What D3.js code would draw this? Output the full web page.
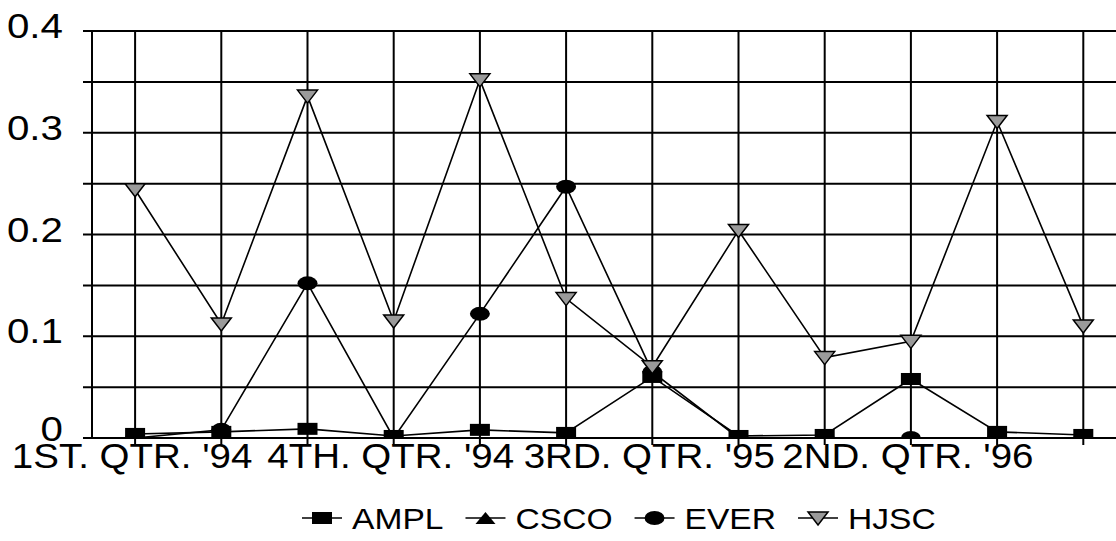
<!DOCTYPE html>
<html>
<head>
<meta charset="utf-8">
<script src="https://cdn.jsdelivr.net/npm/d3@7"></script>
<style>
  body { margin: 0; background: #fff; }
  svg { display: block; font-family: Arial, "Liberation Sans", sans-serif; }
</style>
</head>
<body>
<div id="chart"></div>
<script>
var quarters = ["1ST. QTR. '94", "2ND. QTR. '94", "3RD. QTR. '94", "4TH. QTR. '94",
                "1ST. QTR. '95", "2ND. QTR. '95", "3RD. QTR. '95", "4TH. QTR. '95",
                "1ST. QTR. '96", "2ND. QTR. '96", "3RD. QTR. '96", "4TH. QTR. '96"];
var shownLabels = ["1ST. QTR. '94", "4TH. QTR. '94", "3RD. QTR. '95", "2ND. QTR. '96"];
var yTicks = [0, 0.1, 0.2, 0.3, 0.4];
var gridSteps = [0, 0.05, 0.1, 0.15, 0.2, 0.25, 0.3, 0.35, 0.4];

var ampl = [0.004, 0.006, 0.009, 0.002, 0.008, 0.005, 0.060, 0.002, 0.003, 0.058, 0.006, 0.003];
var csco = [null, null, null, null, null, null, null, null, null, null, null, null];
var ever = [0, 0.008, 0.152, 0, 0.122, 0.247, 0.065, 0, 0, 0, 0, 0];
var hjsc = [0.244, 0.112, 0.336, 0.115, 0.352, 0.137, 0.070, 0.204, 0.079, 0.095, 0.311, 0.110];

var seriesNames = ["AMPL", "CSCO", "EVER", "HJSC"];

var W = 1116, H = 541;
var plotLeft = 92, plotTop = 31, plotBottom = 438;

var svg = d3.select("#chart").append("svg")
    .attr("width", W)
    .attr("height", H);

var x = d3.scaleBand()
    .domain(quarters)
    .range([plotLeft, plotLeft + 12 * 86.2])
    .paddingInner(0);
var cx = function(q) { return x(q) + x.bandwidth() / 2; };

var y = d3.scaleLinear()
    .domain([0, 0.4])
    .range([plotBottom, plotTop]);

// grid
svg.append("g").selectAll("line")
    .data(gridSteps)
    .enter().append("line")
    .attr("x1", plotLeft - 9).attr("x2", W)
    .attr("y1", function(d){ return y(d); })
    .attr("y2", function(d){ return y(d); })
    .attr("stroke", "#000").attr("stroke-width", 2);

svg.append("g").selectAll("line")
    .data(quarters)
    .enter().append("line")
    .attr("x1", cx).attr("x2", cx)
    .attr("y1", plotTop).attr("y2", plotBottom + 7)
    .attr("stroke", "#000").attr("stroke-width", 2);

svg.append("line")
    .attr("x1", plotLeft).attr("x2", plotLeft)
    .attr("y1", plotTop).attr("y2", plotBottom)
    .attr("stroke", "#000").attr("stroke-width", 2);

// y labels
svg.append("g").selectAll("text")
    .data(yTicks)
    .enter().append("text")
    .attr("transform", function(d){ return "translate(63," + (y(d) + (d === 0 ? 3 : 7)) + ") scale(1.12,1)"; })
    .attr("text-anchor", "end")
    .attr("font-size", 36)
    .text(function(d){ return d === 0 ? "0" : d3.format(".1f")(d); });

// x labels (the scanned chart is stretched sideways a little)
svg.append("g").selectAll("text")
    .data(shownLabels)
    .enter().append("text")
    .attr("transform", function(d){ return "translate(" + (cx(d) - 3) + ",468) scale(1.1,1)"; })
    .attr("text-anchor", "middle")
    .attr("font-size", 35)
    .text(function(d){ return d; });

// marks
svg.append("clipPath").attr("id", "plot")
    .append("rect").attr("x", 0).attr("y", 0).attr("width", W).attr("height", plotBottom);

var plot = svg.append("g").attr("clip-path", "url(#plot)");

function marker(g, kind) {
  if (kind === "square") {
    g.append("rect").attr("x", -10).attr("y", -6).attr("width", 20).attr("height", 12).attr("fill", "#000");
  } else if (kind === "tri") {
    g.append("path").attr("d", "M-10,6 L10,6 L0,-6 Z").attr("fill", "#000");
  } else if (kind === "circle") {
    g.append("ellipse").attr("rx", 10).attr("ry", 7).attr("fill", "#000");
  } else {
    g.append("path").attr("d", "M-10,-6 L10,-6 L0,7 Z")
      .attr("fill", "#9a9a9a").attr("stroke", "#000").attr("stroke-width", 1.5);
  }
}

var series = [
  { name: seriesNames[0], values: ampl, kind: "square" },
  { name: seriesNames[1], values: csco, kind: "tri" },
  { name: seriesNames[2], values: ever, kind: "circle" },
  { name: seriesNames[3], values: hjsc, kind: "dtri" }
];

var line = d3.line()
    .defined(function(d){ return d.v !== null; })
    .x(function(d){ return cx(d.q); })
    .y(function(d){ return y(d.v); });

series.forEach(function(s) {
  var pts = s.values.map(function(v, i){ return { q: quarters[i], v: v }; });
  plot.append("path")
    .datum(pts)
    .attr("d", line)
    .attr("fill", "none")
    .attr("stroke", "#000")
    .attr("stroke-width", 1.6);
  pts.filter(function(d){ return d.v !== null; }).forEach(function(d) {
    var g = plot.append("g").attr("transform", "translate(" + cx(d.q) + "," + y(d.v) + ")");
    marker(g, s.kind);
  });
});

// legend
var legend = svg.append("g");
var lx = 0;
series.forEach(function(s, i) {
  var g = legend.append("g").attr("transform", "translate(" + lx + ",0)");
  g.append("line").attr("x1", 0).attr("x2", 40).attr("y1", 0).attr("y2", 0)
    .attr("stroke", "#000").attr("stroke-width", 1.6);
  var m = g.append("g").attr("transform", "translate(20,0)");
  marker(m, s.kind);
  var t = g.append("text").attr("transform", "translate(50,11) scale(1.12,1)")
    .attr("font-size", 30).text(s.name);
  lx += 50 + t.node().getComputedTextLength() * 1.12 + 22;
});
legend.attr("transform", "translate(" + Math.round(619 - (lx - 22) / 2) + ",518)");
</script>
</body>
</html>
